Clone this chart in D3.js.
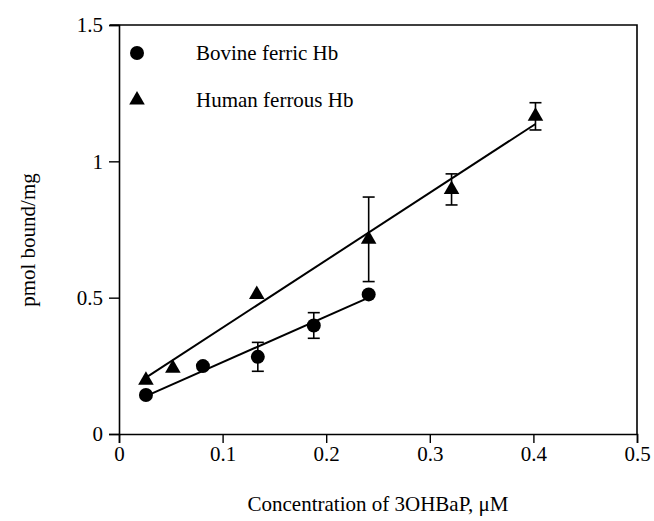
<!DOCTYPE html>
<html>
<head>
<meta charset="utf-8">
<script src="https://cdn.jsdelivr.net/npm/d3@7"></script>
<style>
  body { margin: 0; background: #fff; }
  svg { font-family: "Liberation Serif", "Times New Roman", serif; }
</style>
</head>
<body>
<svg id="chart" width="654" height="521"></svg>
<script>
// data
const bovineX = [0.026, 0.081, 0.134, 0.188, 0.241];
const bovineY = [0.143, 0.249, 0.283, 0.398, 0.512];
const bovineErr = [0, 0, 0.053, 0.047, 0];
const humanX = [0.026, 0.052, 0.133, 0.241, 0.321, 0.402];
const humanY = [0.197, 0.241, 0.512, 0.714, 0.897, 1.165];
const humanErr = [0, 0, 0, 0.155, 0.057, 0.05];
// fitted lines (end points)
const bovineFit = [[0.026, 0.139], [0.241, 0.500]];
const humanFit = [[0.026, 0.207], [0.402, 1.137]];
const xTicks = [0, 0.1, 0.2, 0.3, 0.4, 0.5];
const yTicks = [0, 0.5, 1, 1.5];
const legendLabels = ["Bovine ferric Hb", "Human ferrous Hb"];

const margin = { top: 25, right: 17, bottom: 87, left: 119 };
const width = 654, height = 521;
const innerWidth = width - margin.left - margin.right;
const innerHeight = height - margin.top - margin.bottom;
const fontSize = "21px";

const svg = d3.select("#chart");
const chart = svg.append("g").attr("transform", `translate(${margin.left},${margin.top})`);

const x = d3.scaleLinear().domain([0, 0.5]).range([0, innerWidth]);
const y = d3.scaleLinear().domain([0, 1.5]).range([innerHeight, 0]);

// frame (top + right)
chart.append("path")
  .attr("d", `M${x(0) - 9},${y(1.5)}H${x(0.5)}V${y(0)}`)
  .attr("fill", "none").attr("stroke", "#000").attr("stroke-width", 1.6);

const xAxis = d3.axisBottom(x).tickValues(xTicks).tickSize(9).tickPadding(3)
  .tickFormat(d => d === 0 ? "0" : d3.format(".1f")(d));
chart.append("g").attr("transform", `translate(0,${innerHeight})`).call(xAxis);

const yAxis = d3.axisLeft(y).tickValues(yTicks).tickSize(10).tickPadding(6)
  .tickFormat(d => d === 0 || d === 1 ? String(d) : d3.format(".1f")(d));
chart.append("g").call(yAxis);

chart.selectAll("g").attr("font-family", null).attr("font-size", null);
chart.selectAll(".domain").attr("stroke-width", 1.6);
chart.selectAll(".tick line").attr("stroke-width", 1.4);
chart.selectAll(".tick text").style("font-size", fontSize).attr("fill", "#000");

// fit lines
const line = d3.line().x(d => x(d[0])).y(d => y(d[1]));
[bovineFit, humanFit].forEach(f => {
  chart.append("path").attr("d", line(f))
    .attr("fill", "none").attr("stroke", "#000").attr("stroke-width", 2);
});

// error bars
function errorBars(xs, ys, es) {
  const g = chart.append("g").attr("stroke", "#000").attr("stroke-width", 1.6);
  xs.forEach((xv, i) => {
    if (!es[i]) return;
    const cx = x(xv), top = y(ys[i] + es[i]), bot = y(ys[i] - es[i]);
    g.append("line").attr("x1", cx).attr("x2", cx).attr("y1", top).attr("y2", bot);
    g.append("line").attr("x1", cx - 6).attr("x2", cx + 6).attr("y1", top).attr("y2", top);
    g.append("line").attr("x1", cx - 6).attr("x2", cx + 6).attr("y1", bot).attr("y2", bot);
  });
}
errorBars(bovineX, bovineY, bovineErr);
errorBars(humanX, humanY, humanErr);

const tri = d3.symbol().type(d3.symbolTriangle).size(105);

chart.selectAll(".bov").data(bovineX).join("circle")
  .attr("cx", d => x(d)).attr("cy", (d, i) => y(bovineY[i])).attr("r", 7).attr("fill", "#000");

chart.selectAll(".hum").data(humanX).join("path")
  .attr("d", tri)
  .attr("transform", (d, i) => `translate(${x(d)},${y(humanY[i])})`).attr("fill", "#000");

// legend
const legend = svg.append("g");
legend.append("circle").attr("cx", 137).attr("cy", 53).attr("r", 7).attr("fill", "#000");
legend.append("path").attr("d", tri).attr("transform", "translate(137,100)").attr("fill", "#000");
legend.selectAll("text").data(legendLabels).join("text")
  .attr("x", 196).attr("y", (d, i) => 60 + i * 47)
  .style("font-size", fontSize).text(d => d);

// axis titles
svg.append("text")
  .attr("transform", `translate(35,240) rotate(-90)`)
  .attr("text-anchor", "middle").style("font-size", fontSize).text("pmol bound/mg");
svg.append("text")
  .attr("x", 378).attr("y", 511)
  .attr("text-anchor", "middle").style("font-size", fontSize).text("Concentration of 3OHBaP, μM");
</script>
</body>
</html>
